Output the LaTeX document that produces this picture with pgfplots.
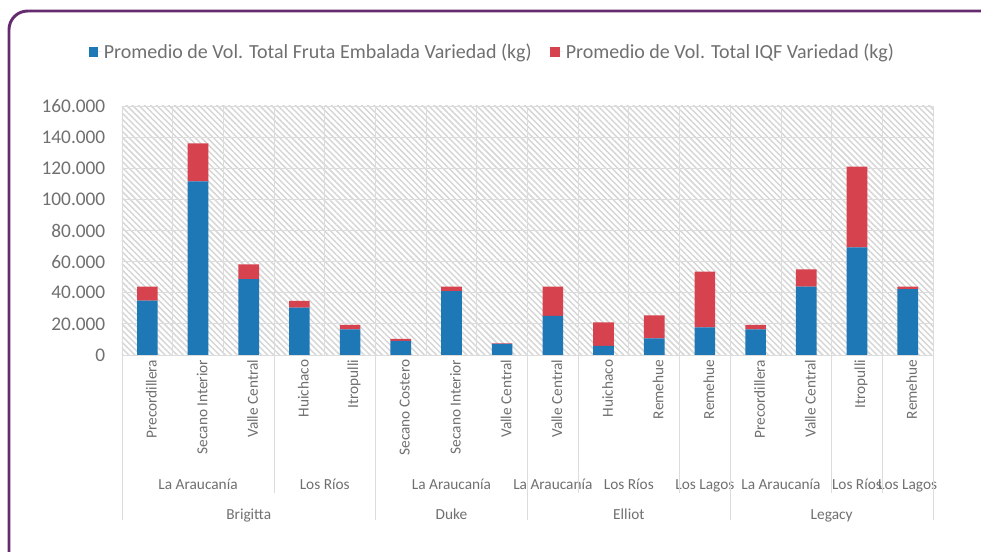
\documentclass[border=0pt]{standalone}
\usepackage{fontspec}
\setmainfont{Carlito}
\usepackage{pgfplots}
\pgfplotsset{compat=1.18}
\usetikzlibrary{patterns.meta}
\definecolor{cblue}{HTML}{1F78B6}
\definecolor{cred}{HTML}{D6434F}
\definecolor{cpurple}{HTML}{642C6E}
\definecolor{ctext}{HTML}{707070}
\definecolor{cgrid}{HTML}{DCDCDC}
\definecolor{chatch}{HTML}{D6D6D6}
\newcommand{\catfont}{\fontsize{11.5}{12}\selectfont}
\tikzset{lab/.style={font=\catfont, text=ctext, inner sep=0pt, text height=1.6ex, text depth=0.4ex}}
\begin{document}
\begin{tikzpicture}[x=0.75pt,y=0.75pt]
\useasboundingbox (0,0) rectangle (981,552);
\fill[white] (0,0) rectangle (981,552);
\draw[cpurple, line width=2.2pt, rounded corners=14pt] (9,-40) -- (9,541) -- (1020,541);
\begin{axis}[
  at={(91.5pt,147.75pt)}, anchor=south west,
  width=608.25pt, height=186.75pt, scale only axis,
  ybar stacked, bar width=15.5pt,
  xmin=-0.5, xmax=15.5, ymin=0, ymax=160000,
  xtick={0,...,15},
  xticklabels={Precordillera,Secano Interior,Valle Central,Huichaco,Itropulli,Secano Costero,Secano Interior,Valle Central,Valle Central,Huichaco,Remehue,Remehue,Precordillera,Valle Central,Itropulli,Remehue},
  x tick label style={rotate=90, anchor=east, font=\catfont, text=ctext, yshift=-3pt},
  major x tick style={draw=none},
  minor xtick={-0.5,0.5,...,15.5}, xminorgrids, minor x grid style={cgrid, line width=0.6pt}, minor x tick style={draw=none},
  ytick={0,20000,...,160000}, ymajorgrids, major y grid style={cgrid, line width=0.6pt},
  scaled y ticks=false,
  yticklabel style={font=\fontsize{14.5}{15}\selectfont, text=ctext, xshift=-9pt, /pgf/number format/.cd, fixed, 1000 sep={.}, assume math mode=true},
  ytick style={draw=none},
  axis line style={cgrid, line width=0.6pt},
  axis background/.style={pattern={Lines[angle=-45,distance=3.2pt,line width=1.1pt]}, pattern color=chatch},
  clip=false,
  legend style={at={(0.457,1.217)}, anchor=center, draw=none, fill=none, font=\fontsize{15}{16}\selectfont, text=ctext,
    legend columns=2, /tikz/every even column/.style={column sep=12pt}},
  legend image code/.code={\fill[#1] (0pt,-3.5pt) rectangle (7pt,3.5pt); \path (0pt,0pt) -- (9.5pt,0pt);},
]
\addplot[fill=cblue, draw=none] coordinates {(0,35000) (1,111500) (2,48800) (3,30400) (4,16500) (5,9000) (6,41100) (7,7100) (8,25100) (9,5800) (10,10700) (11,17800) (12,16500) (13,43900) (14,69200) (15,42400)};
\addlegendentry{Promedio de Vol. Total Fruta Embalada Variedad (kg)}
\addplot[fill=cred, draw=none] coordinates {(0,9000) (1,24500) (2,9500) (3,4300) (4,2800) (5,1300) (6,2800) (7,400) (8,18800) (9,15200) (10,14800) (11,35700) (12,2800) (13,11100) (14,51800) (15,1500)};
\addlegendentry{Promedio de Vol. Total IQF Variedad (kg)}
% separators in the label area
\draw[cgrid, line width=0.7pt] (axis cs:-0.5,0) -- ++(0pt,-123.75pt);
\draw[cgrid, line width=0.7pt] (axis cs:4.5,0) -- ++(0pt,-123.75pt);
\draw[cgrid, line width=0.7pt] (axis cs:7.5,0) -- ++(0pt,-123.75pt);
\draw[cgrid, line width=0.7pt] (axis cs:11.5,0) -- ++(0pt,-123.75pt);
\draw[cgrid, line width=0.7pt] (axis cs:15.5,0) -- ++(0pt,-123.75pt);
\draw[cgrid, line width=0.7pt] (axis cs:2.5,0) -- ++(0pt,-103.5pt);
\draw[cgrid, line width=0.7pt] (axis cs:8.5,0) -- ++(0pt,-103.5pt);
\draw[cgrid, line width=0.7pt] (axis cs:10.5,0) -- ++(0pt,-103.5pt);
\draw[cgrid, line width=0.7pt] (axis cs:13.5,0) -- ++(0pt,-103.5pt);
\draw[cgrid, line width=0.7pt] (axis cs:14.5,0) -- ++(0pt,-103.5pt);
% region labels
\node[lab] at ([yshift=-98.25pt]axis cs:1,0) {La Araucanía};
\node[lab] at ([yshift=-98.25pt]axis cs:3.5,0) {Los Ríos};
\node[lab] at ([yshift=-98.25pt]axis cs:6,0) {La Araucanía};
\node[lab] at ([yshift=-98.25pt]axis cs:8,0) {La Araucanía};
\node[lab] at ([yshift=-98.25pt]axis cs:9.5,0) {Los Ríos};
\node[lab] at ([yshift=-98.25pt]axis cs:11,0) {Los Lagos};
\node[lab] at ([yshift=-98.25pt]axis cs:12.5,0) {La Araucanía};
\node[lab] at ([yshift=-98.25pt]axis cs:14,0) {Los Ríos};
\node[lab] at ([yshift=-98.25pt]axis cs:15,0) {Los Lagos};
% variety labels
\node[lab] at ([yshift=-120.75pt]axis cs:2,0) {Brigitta};
\node[lab] at ([yshift=-120.75pt]axis cs:6,0) {Duke};
\node[lab] at ([yshift=-120.75pt]axis cs:9.5,0) {Elliot};
\node[lab] at ([yshift=-120.75pt]axis cs:13.5,0) {Legacy};
\end{axis}
\end{tikzpicture}
\end{document}
